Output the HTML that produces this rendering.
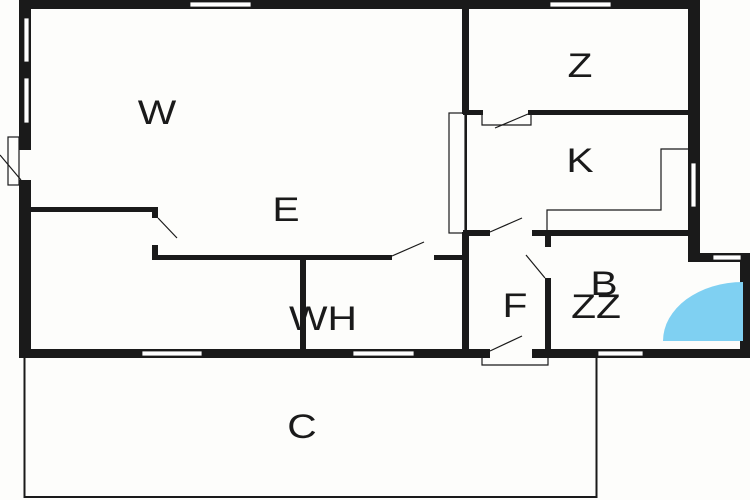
<!DOCTYPE html>
<html><head><style>html,body{margin:0;padding:0;background:#fdfdfb}svg{display:block}</style></head><body>
<svg width="750" height="500" viewBox="0 0 750 500" xmlns="http://www.w3.org/2000/svg">
<rect width="750" height="500" fill="#fdfdfb"/>
<rect x="24.5" y="356" width="572" height="141" fill="none" stroke="#1a1a1a" stroke-width="2"/>
<g fill="#1a1a1a">
<rect x="19" y="0" width="681" height="9"/>
<rect x="19" y="0" width="12" height="358"/>
<rect x="19" y="349" width="731" height="9"/>
<rect x="462" y="0" width="7" height="114"/>
<rect x="462" y="232" width="7" height="118"/>
<rect x="465" y="114" width="2" height="118"/>
<rect x="688" y="0" width="12" height="262"/>
<rect x="688" y="253" width="62" height="9"/>
<rect x="740" y="253" width="10" height="105"/>
<rect x="463" y="110" width="20" height="5"/>
<rect x="528" y="110" width="162" height="5"/>
<rect x="463" y="230" width="27" height="6"/>
<rect x="532" y="230" width="158" height="6"/>
<rect x="545" y="230" width="6" height="17"/>
<rect x="545" y="278" width="6" height="72"/>
<rect x="31" y="207" width="127" height="5"/>
<rect x="152" y="207" width="6" height="11"/>
<rect x="152" y="245" width="6" height="15"/>
<rect x="152" y="255" width="240" height="5"/>
<rect x="434" y="255" width="30" height="5"/>
<rect x="300" y="255" width="6" height="95"/>
</g>
<g fill="#fff" stroke="#1a1a1a" stroke-width="0.8">
<rect x="190" y="2" width="61" height="5"/>
<rect x="550" y="2" width="61" height="5"/>
<rect x="24" y="18" width="5" height="44"/>
<rect x="24" y="78" width="5" height="45"/>
<rect x="691" y="163" width="5" height="44"/>
<rect x="713" y="255" width="28" height="5"/>
<rect x="142" y="351" width="60" height="5"/>
<rect x="353" y="351" width="61" height="5"/>
<rect x="598" y="351" width="45" height="5"/>
</g>
<g fill="#fdfdfb">
<rect x="19" y="150" width="12" height="30"/>
<rect x="392" y="254" width="42" height="7"/>
<rect x="490" y="229" width="42" height="8"/>
<rect x="490" y="348" width="42" height="11"/>
<rect x="483" y="109" width="45" height="7"/>
</g>
<g fill="none" stroke="#1a1a1a" stroke-width="1.2">
<rect x="8" y="137" width="11" height="48"/>
<line x1="0" y1="155" x2="21" y2="180"/>
<line x1="158" y1="218" x2="177" y2="238"/>
<line x1="392" y1="256" x2="424" y2="242"/>
<rect x="449" y="113" width="16" height="120"/>
<polyline points="482,115 482,125 531,125 531,115"/>
<line x1="495" y1="128" x2="528" y2="114"/>
<line x1="490" y1="232" x2="522" y2="218"/>
<polyline points="547,230 547,210 661,210 661,149 688,149"/>
<line x1="526" y1="255" x2="545" y2="278"/>
<line x1="490" y1="351" x2="522" y2="336"/>
<polyline points="482,358 482,365 548,365 548,358"/>
</g>
<path d="M743,341 L663,341 A80,59 0 0 1 743,282 Z" fill="#7fd0f2"/>
<g font-family="Liberation Sans, sans-serif" font-size="34" fill="#1a1a1a" text-anchor="middle">
<text transform="translate(157,124) scale(1.2,1)">W</text>
<text transform="translate(286,221) scale(1.2,1)">E</text>
<text transform="translate(323,330) scale(1.2,1)">WH</text>
<text transform="translate(580,77) scale(1.2,1)">Z</text>
<text transform="translate(580,172) scale(1.2,1)">K</text>
<text transform="translate(604,295) scale(1.2,1)">B</text>
<text transform="translate(596,318) scale(1.2,1)">ZZ</text>
<text transform="translate(515,317) scale(1.2,1)">F</text>
<text transform="translate(302,438) scale(1.2,1)">C</text>
</g>
</svg>
</body></html>
